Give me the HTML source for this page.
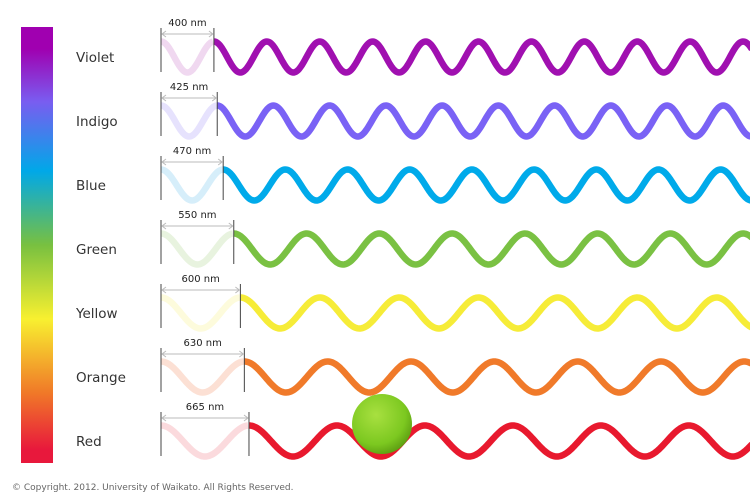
<!DOCTYPE html>
<html><head><meta charset="utf-8"><style>
body{margin:0;background:#fff;width:750px;height:500px;overflow:hidden;font-family:"DejaVu Sans","Liberation Sans",sans-serif}
</style></head><body>
<svg id="chart" width="750" height="500" xmlns="http://www.w3.org/2000/svg">
<defs>
<linearGradient id="spec" x1="0" y1="0" x2="0" y2="1">
<stop offset="0" stop-color="#a000b0"/><stop offset="0.05" stop-color="#a000b0"/>
<stop offset="0.17" stop-color="#7a5cf0"/><stop offset="0.33" stop-color="#00a8e8"/>
<stop offset="0.5" stop-color="#78c040"/><stop offset="0.67" stop-color="#f8f030"/>
<stop offset="0.84" stop-color="#f07828"/><stop offset="0.97" stop-color="#e8183c"/><stop offset="1" stop-color="#e8183c"/>
</linearGradient>
<radialGradient id="ball" cx="0.4" cy="0.35" r="0.7">
<stop offset="0" stop-color="#a8e040"/><stop offset="0.7" stop-color="#7cc820"/><stop offset="1" stop-color="#5a9a10"/>
</radialGradient>
</defs>
<rect x="21" y="27" width="32" height="436" fill="url(#spec)"/>
<g id="rows"></g>
<circle cx="382" cy="424" r="30" fill="url(#ball)"/>
<text x="12" y="490" font-size="9" fill="#666">© Copyright. 2012. University of Waikato. All Rights Reserved.</text>
</svg>
<script>
const colorNames = ["Violet","Indigo","Blue","Green","Yellow","Orange","Red"];
const wavelengths = [400,425,470,550,600,630,665];
const colors = ["#a010b0","#7a62f5","#00aaea","#7ac143","#f6ec38","#f07a2a","#e8192e"];
const fades = ["#f0d8f0","#e6e2fd","#d6eefa","#e8f3df","#fdfbdc","#fce0d4","#fbdadd"];
const NS="http://www.w3.org/2000/svg";
const g=document.getElementById('rows');
const x0=161, xScale=0.1323, rowY=i=>57+i*64, A=15.5;
function mk(t,a){const e=document.createElementNS(NS,t);for(const k in a)e.setAttribute(k,a[k]);return e;}
function wave(c,P,xa,xb){let d="";for(let x=xa;x<=xb;x+=1){const y=c-A*Math.cos(2*Math.PI*(x-x0)/P);d+=(x===xa?"M":"L")+x.toFixed(1)+" "+y.toFixed(2);}return d;}
colorNames.forEach((n,i)=>{
  const c=rowY(i), P=wavelengths[i]*xScale, x1=x0+P;
  const lab=mk('text',{x:76,y:c+5,'font-size':13.5,fill:'#333'});lab.textContent=n;
  
  
  g.appendChild(lab);
  const f=mk('path',{d:wave(c,P,x0,x1),stroke:fades[i],'stroke-width':6.5,fill:'none'});
  
  
  g.appendChild(f);
  const w=mk('path',{d:wave(c,P,x1,752),stroke:colors[i],'stroke-width':6.5,fill:'none'});
  
  
  g.appendChild(w);
  [x0,x1].forEach(x=>{const l=mk('line',{x1:x,x2:x,y1:c-29,y2:c+15,stroke:'#444','stroke-width':1});
    
    
    g.appendChild(l);});
  const ay=c-23;
  const ar=mk('path',{d:`M${x0+1} ${ay}H${x1-1}M${x0+5} ${ay-3}L${x0+1} ${ay}L${x0+5} ${ay+3}M${x1-5} ${ay-3}L${x1-1} ${ay}L${x1-5} ${ay+3}`,stroke:'#bbb','stroke-width':1,fill:'none'});
  
  
  g.appendChild(ar);
  const t=mk('text',{x:(x0+x1)/2,y:c-31,'font-size':10,fill:'#222','text-anchor':'middle'});
  t.textContent=wavelengths[i]+" nm";
  
  
  g.appendChild(t);
});
</script>
</body></html>
